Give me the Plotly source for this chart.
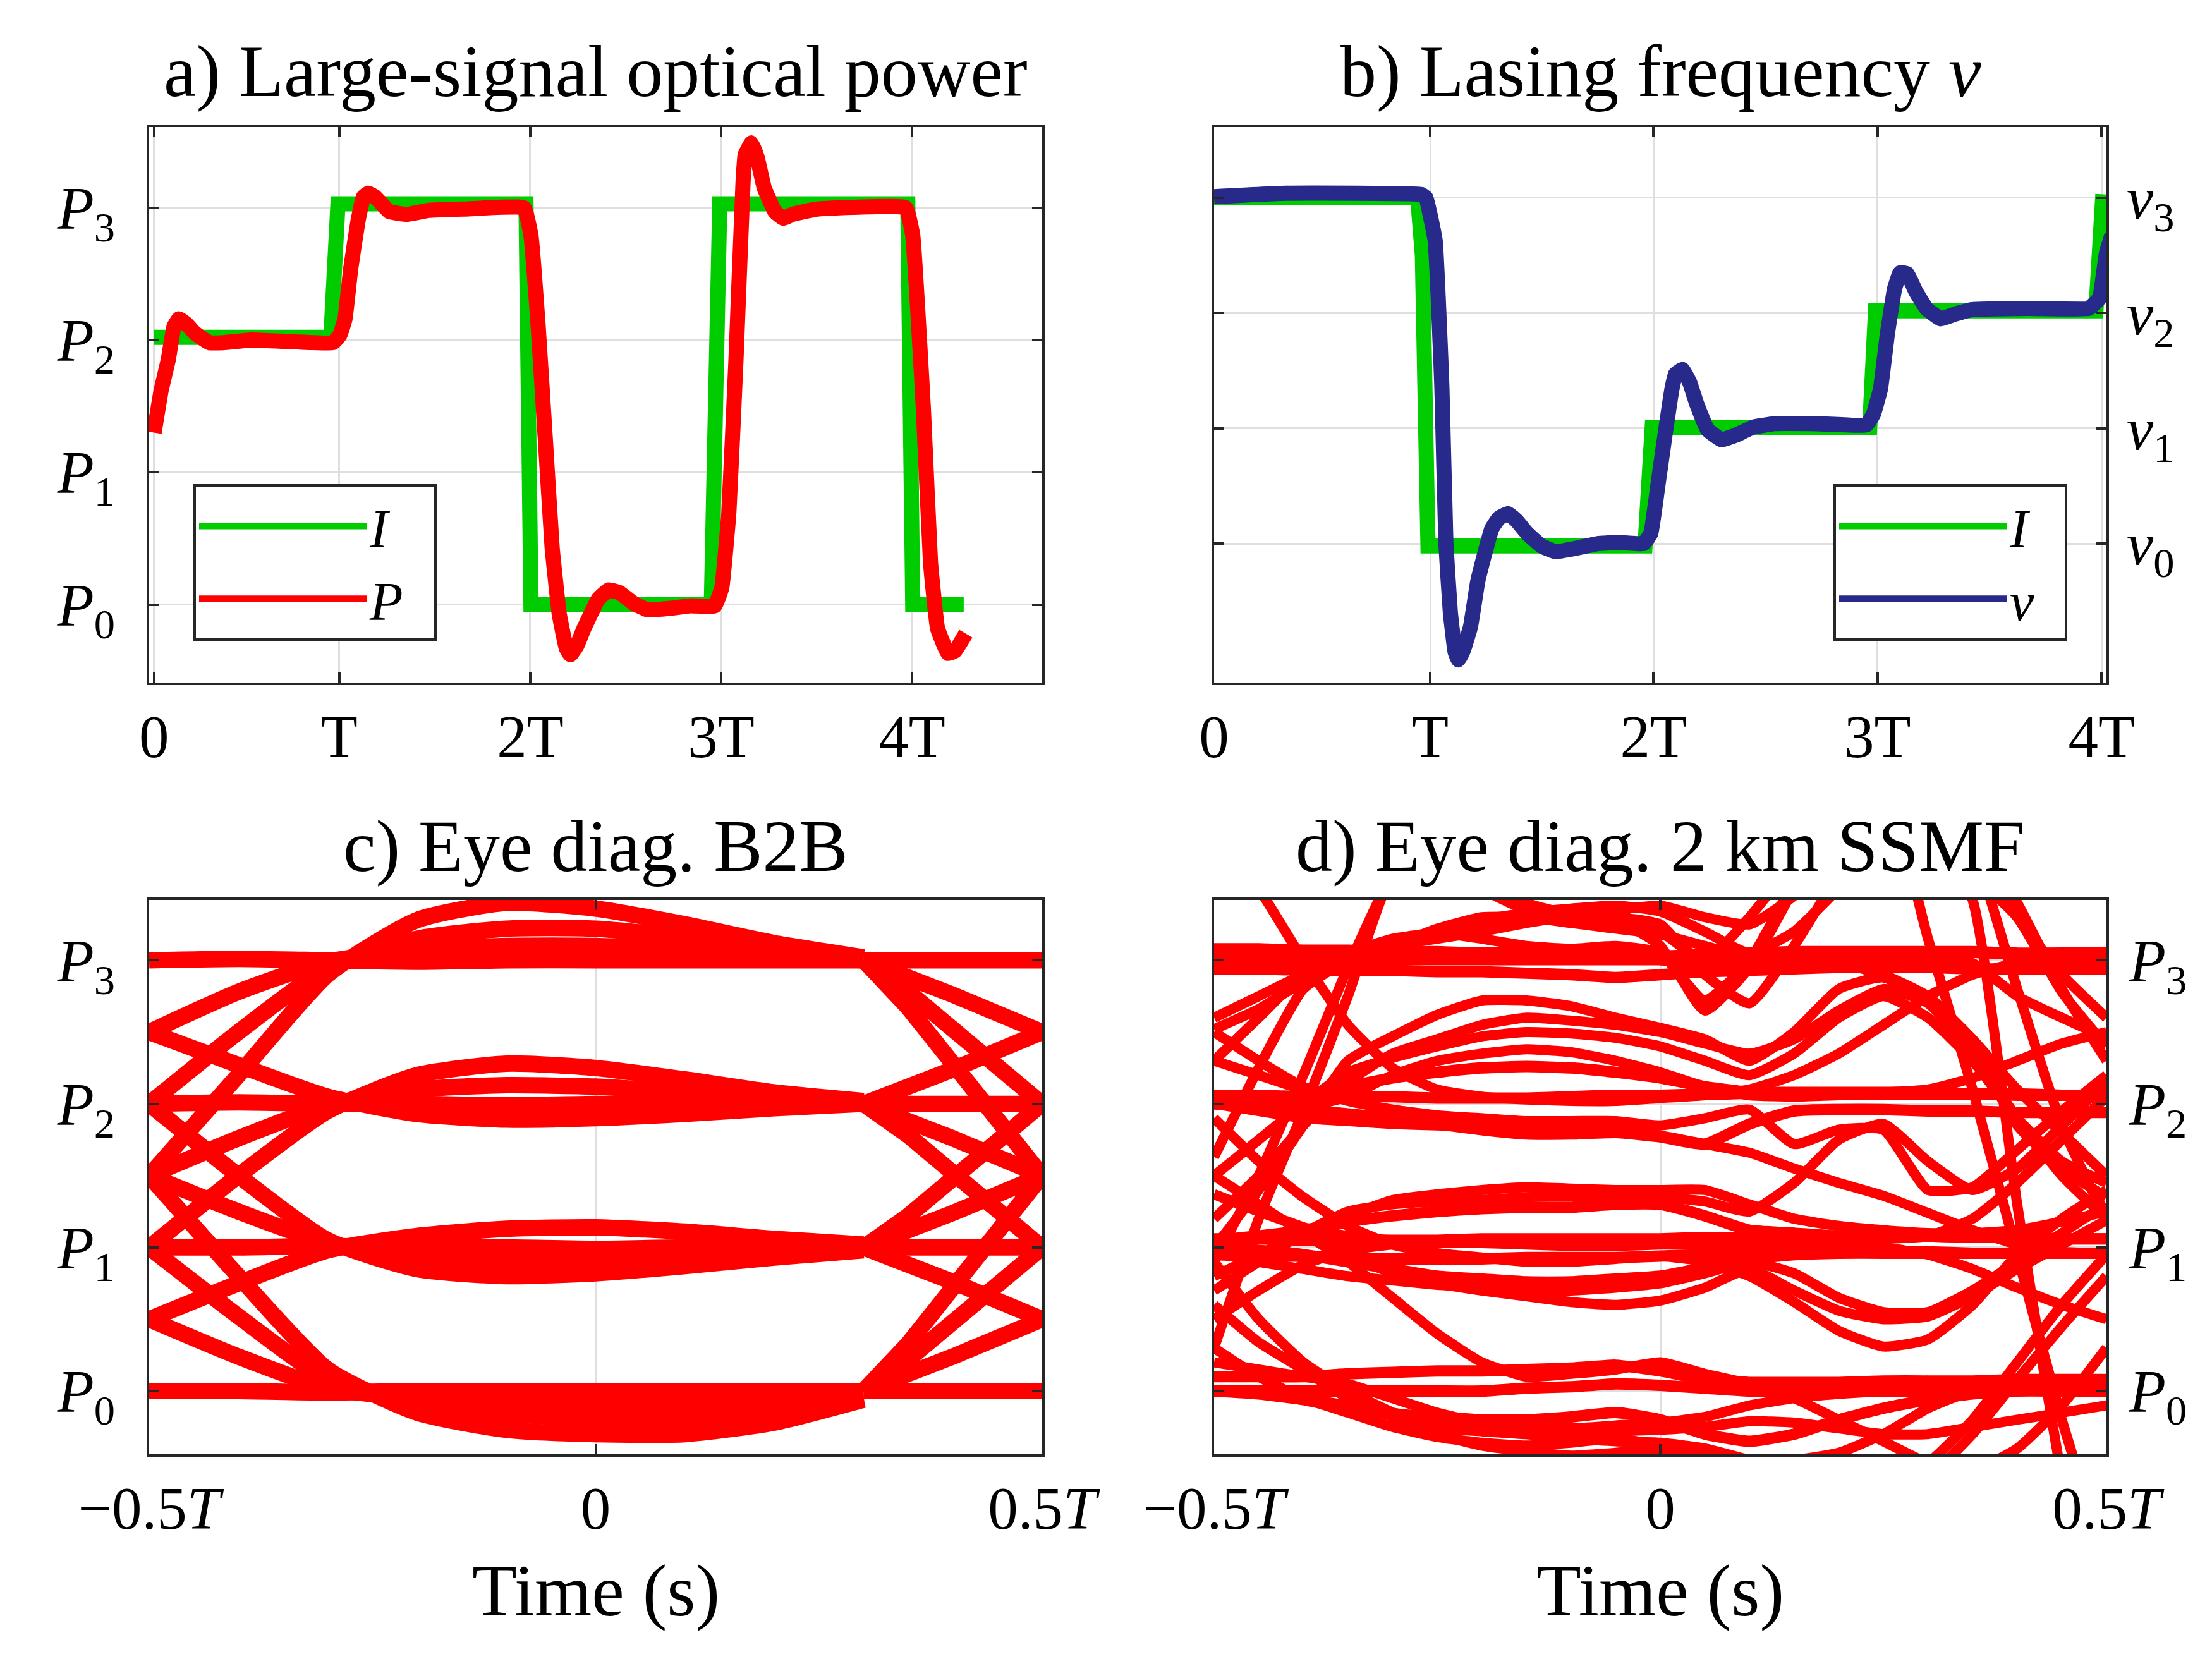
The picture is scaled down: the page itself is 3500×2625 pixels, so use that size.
import plotly.graph_objects as go

FONT = "Liberation Serif"
RED = "#FF0000"
GREEN = "#00CC00"
NAVY = "#27298B"
AXC = "#262626"
GRIDC = "#DFDFDF"

# ---------------- panel a: large-signal optical power ----------------
a_I_t = [0.0, 0.926, 0.963, 1.948, 1.974, 2.919, 2.963, 3.948, 3.974, 4.241]
a_I_v = [2.02, 2.02, 3.03, 3.03, 0.0, 0.0, 3.03, 3.03, 0.0, 0.0]
a_P_t = [0.000, 0.037, 0.074, 0.104, 0.130, 0.170, 0.215, 0.289, 0.363, 0.511, 0.937, 0.974,
         1.000, 1.030, 1.067, 1.096, 1.122, 1.159, 1.233, 1.326, 1.437, 1.622, 1.937, 1.974,
         2.011, 2.048, 2.085, 2.122, 2.159, 2.181, 2.215, 2.252, 2.326, 2.381, 2.437, 2.511,
         2.585, 2.696, 2.807, 2.937, 2.974, 3.011, 3.048, 3.085, 3.096, 3.130, 3.159, 3.196,
         3.252, 3.296, 3.344, 3.474, 3.937, 3.974, 4.030, 4.067, 4.104, 4.159, 4.196, 4.252]
a_P_v = [1.30, 1.62, 1.85, 2.10, 2.16, 2.12, 2.05, 1.98, 1.98, 2.00, 1.98, 2.04,
         2.16, 2.54, 2.89, 3.08, 3.11, 3.08, 2.97, 2.95, 2.98, 2.99, 3.00, 2.79,
         2.12, 1.28, 0.43, -0.07, -0.33, -0.38, -0.31, -0.18, 0.04, 0.11, 0.09, 0.01,
         -0.04, -0.03, -0.01, -0.01, 0.13, 0.70, 1.85, 3.19, 3.40, 3.49, 3.38, 3.15,
         2.97, 2.92, 2.95, 2.99, 3.00, 2.79, 1.47, 0.32, -0.18, -0.37, -0.35, -0.22]
a_tick_pos = [0, 0.97, 1.97, 2.97, 3.97]

# ---------------- panel b: lasing frequency ----------------
b_I_t = [0.0, 0.909, 0.930, 0.955, 1.924, 1.956, 2.927, 2.953, 3.937, 3.968]
b_I_v = [3.0, 3.0, 2.5, -0.02, -0.02, 1.01, 1.01, 2.02, 2.02, 3.03]
b_nu_t = [0.0, 0.325, 0.924, 0.946, 0.987, 1.017, 1.035, 1.055, 1.076, 1.091, 1.114, 1.145,
          1.177, 1.208, 1.240, 1.271, 1.312, 1.350, 1.397, 1.461, 1.524, 1.618, 1.713, 1.808,
          1.918, 1.950, 1.981, 2.013, 2.044, 2.060, 2.091, 2.123, 2.155, 2.202, 2.265, 2.328,
          2.407, 2.502, 2.691, 2.912, 2.943, 2.975, 3.006, 3.038, 3.063, 3.095, 3.132, 3.180,
          3.243, 3.306, 3.385, 3.637, 3.905, 3.953, 3.984, 4.009]
b_nu_v = [3.01, 3.04, 3.03, 3.00, 2.63, 1.36, 0.00, -0.60, -0.94, -1.01, -0.92, -0.72,
          -0.33, -0.09, 0.13, 0.22, 0.26, 0.20, 0.09, -0.02, -0.07, -0.04, 0.00, 0.01,
          0.00, 0.09, 0.50, 0.94, 1.34, 1.47, 1.51, 1.40, 1.21, 0.99, 0.90, 0.94,
          1.01, 1.04, 1.04, 1.03, 1.12, 1.34, 1.82, 2.21, 2.35, 2.34, 2.19, 2.04,
          1.95, 1.99, 2.03, 2.04, 2.04, 2.13, 2.52, 2.68]
b_tick_pos = [0, 0.965, 1.962, 2.962, 3.962]

tick_T = ["0", "T", "2T", "3T", "4T"]
P_labels = ["<i>P</i><sub>0</sub>", "<i>P</i><sub>1</sub>", "<i>P</i><sub>2</sub>", "<i>P</i><sub>3</sub>"]
nu_labels = ["<i>ν</i><sub>0</sub>", "<i>ν</i><sub>1</sub>", "<i>ν</i><sub>2</sub>", "<i>ν</i><sub>3</sub>"]
levels = [0, 1, 2, 3]
eye_tick_pos = [-0.5, 0, 0.5]
eye_tick_text = ["−0.5<i>T</i>", "0", "0.5<i>T</i>"]

# ---------------- panel c: eye diagram B2B ----------------
c_left_u = [-0.5, -0.4, -0.3, -0.2, -0.1, 0.0, 0.1, 0.2, 0.3]
c_into_P3 = [[3.0, 3.01, 3.0, 2.99, 3.0, 3.0, 3.0, 3.0, 3.0],
             [2.5, 2.78, 2.99, 3.07, 3.1, 3.1, 3.07, 3.03, 3.0],
             [2.0, 2.5, 2.95, 3.15, 3.22, 3.22, 3.16, 3.08, 3.02],
             [1.5, 2.2, 2.9, 3.28, 3.4, 3.36, 3.25, 3.12, 3.02]]
c_into_P2 = [[2.5, 2.27, 2.05, 1.93, 1.89, 1.9, 1.93, 1.97, 2.0],
             [2.0, 2.01, 2.0, 2.0, 1.99, 2.0, 2.0, 2.0, 2.0],
             [1.5, 1.76, 1.99, 2.1, 2.13, 2.12, 2.08, 2.04, 2.01],
             [1.0, 1.5, 1.95, 2.2, 2.28, 2.25, 2.17, 2.08, 2.02]]
c_into_P1 = [[2.0, 1.5, 1.05, 0.85, 0.8, 0.82, 0.87, 0.93, 0.98],
             [1.5, 1.25, 1.03, 0.93, 0.9, 0.92, 0.95, 0.98, 1.0],
             [1.0, 1.0, 1.01, 1.0, 1.0, 0.99, 1.0, 1.0, 1.0],
             [0.5, 0.75, 0.98, 1.08, 1.13, 1.14, 1.11, 1.06, 1.02]]
c_into_P0 = [[1.5, 0.8, 0.15, -0.15, -0.27, -0.3, -0.3, -0.22, -0.06],
             [1.0, 0.52, 0.08, -0.08, -0.16, -0.19, -0.19, -0.13, -0.04],
             [0.5, 0.24, 0.02, -0.05, -0.09, -0.1, -0.1, -0.07, -0.02],
             [0.0, 0.0, -0.01, 0.0, 0.0, 0.0, 0.0, 0.0, 0.0]]
c_right_u = [0.3, 0.35, 0.4, 0.45, 0.5]
c_from_P3 = [[3.0, 3.0, 3.0, 3.0, 3.0], [3.0, 2.89, 2.76, 2.63, 2.5],
             [3.0, 2.78, 2.52, 2.26, 2.0], [3.0, 2.67, 2.28, 1.89, 1.5]]
c_from_P2 = [[2.0, 2.11, 2.24, 2.37, 2.5], [2.0, 2.0, 2.0, 2.0, 2.0],
             [2.0, 1.89, 1.76, 1.63, 1.5], [2.0, 1.78, 1.52, 1.26, 1.0]]
c_from_P1 = [[1.0, 1.22, 1.48, 1.74, 2.0], [1.0, 1.11, 1.24, 1.37, 1.5],
             [1.0, 1.0, 1.0, 1.0, 1.0], [1.0, 0.89, 0.76, 0.63, 0.5]]
c_from_P0 = [[0.0, 0.33, 0.72, 1.11, 1.5], [0.0, 0.22, 0.48, 0.74, 1.0],
             [0.0, 0.11, 0.24, 0.37, 0.5], [0.0, 0.0, 0.0, 0.0, 0.0]]

# ---------------- panel d: eye diagram after 2 km SSMF ----------------
d_u = [-0.5, -0.45, -0.4, -0.35, -0.3, -0.25, -0.2, -0.15, -0.1, -0.05, 0.0,
       0.05, 0.1, 0.15, 0.2, 0.25, 0.3, 0.35, 0.4, 0.45, 0.5]
d_level_bands = [
    [3.08, 3.08, 3.07, 3.07, 3.06, 3.06, 3.05, 3.05, 3.04, 3.04, 3.03, 3.04, 3.05, 3.06, 3.06, 3.06, 3.06, 3.06, 3.05, 3.05, 3.05],
    [2.94, 2.94, 2.93, 2.93, 2.93, 2.92, 2.92, 2.91, 2.9, 2.88, 2.9, 2.92, 2.93, 2.94, 2.95, 2.95, 2.95, 2.94, 2.94, 2.94, 2.94],
    [2.06, 2.06, 2.05, 2.05, 2.05, 2.04, 2.04, 2.04, 2.05, 2.06, 2.06, 2.07, 2.08, 2.08, 2.08, 2.08, 2.08, 2.07, 2.07, 2.06, 2.06],
    [2.0, 1.98, 1.96, 1.93, 1.9, 1.86, 1.82, 1.79, 1.79, 1.8, 1.77, 1.72, 1.86, 1.95, 1.96, 1.96, 1.95, 1.95, 1.94, 1.94, 1.94],
    [1.06, 1.06, 1.05, 1.05, 1.05, 1.05, 1.06, 1.06, 1.06, 1.06, 1.06, 1.07, 1.07, 1.08, 1.08, 1.08, 1.08, 1.07, 1.07, 1.06, 1.06],
    [0.95, 0.94, 0.94, 0.93, 0.92, 0.92, 0.92, 0.93, 0.93, 0.93, 0.94, 0.95, 0.96, 0.96, 0.97, 0.97, 0.97, 0.96, 0.96, 0.96, 0.96],
    [0.1, 0.1, 0.1, 0.12, 0.13, 0.14, 0.14, 0.15, 0.16, 0.18, 0.14, 0.08, 0.06, 0.06, 0.06, 0.07, 0.07, 0.07, 0.08, 0.08, 0.08],
    [0.0, 0.0, 0.0, 0.0, 0.0, 0.0, 0.0, 0.02, 0.03, 0.05, 0.04, 0.02, 0.0, 0.0, 0.0, 0.0, 0.0, 0.02, 0.03, 0.04, 0.05],
    [2.0, 2.02, 2.06, 2.12, 2.18, 2.22, 2.25, 2.26, 2.25, 2.22, 2.18, 2.12, 2.08, 2.07, 2.07, 2.07, 2.07, 2.07, 2.06, 2.06, 2.06],
    [1.0, 0.98, 0.95, 0.9, 0.85, 0.8, 0.78, 0.76, 0.76, 0.78, 0.8, 0.86, 0.92, 0.95, 0.96, 0.96, 0.96, 0.96, 0.96, 0.96, 0.96],
    [1.05, 1.08, 1.12, 1.18, 1.22, 1.25, 1.27, 1.28, 1.28, 1.3, 1.3, 1.22, 1.12, 1.1, 1.08, 1.08, 1.08, 1.07, 1.07, 1.06, 1.06],
    [0.0, -0.02, -0.06, -0.12, -0.16, -0.18, -0.2, -0.2, -0.18, -0.15, -0.2, -0.3, -0.35, -0.3, -0.2, -0.12, -0.06, -0.02, 0.0, 0.0, 0.0],
]
d_wander = [
    [2.52, 2.66, 2.85, 3.0, 3.1, 3.18, 3.24, 3.28, 3.3, 3.28, 3.1, 2.65, 2.95, 3.5, 4.0, 4.2, 3.15, 2.1, 0.95, -0.2, -1.2],
    [2.3, 2.6, 2.9, 3.05, 3.15, 3.19, 3.15, 3.1, 3.08, 3.1, 3.05, 2.72, 3.0, 3.55, 4.1, 4.4, 4.0, 3.42, 1.3, -0.6, -2.0],
    [0.3, 1.2, 1.95, 2.75, 3.6, 3.8, 3.5, 3.35, 3.3, 3.32, 3.2, 3.0, 3.3, 3.7, 4.2, 4.4, 4.3, 3.8, 2.8, 1.85, 1.19],
    [1.63, 2.25, 2.8, 3.0, 3.1, 3.15, 3.2, 3.26, 3.31, 3.35, 3.38, 3.3, 3.25, 3.45, 3.8, 4.0, 3.9, 3.6, 3.3, 2.78, 2.4],
    [1.0, 1.4, 1.85, 2.3, 2.47, 2.62, 2.72, 2.72, 2.68, 2.6, 2.53, 2.45, 2.3, 2.5, 2.8, 2.88, 2.72, 2.4, 1.85, 1.55, 1.35],
    [1.5, 1.75, 2.0, 2.22, 2.32, 2.4, 2.47, 2.5, 2.49, 2.46, 2.4, 2.3, 2.2, 2.35, 2.6, 2.75, 2.6, 2.3, 1.9, 1.6, 1.45],
    [2.0, 2.0, 1.98, 2.05, 2.2, 2.3, 2.35, 2.38, 2.36, 2.3, 2.22, 2.12, 2.06, 2.05, 2.06, 2.06, 2.06, 2.06, 2.06, 2.06, 2.06],
    [2.3, 2.2, 2.1, 2.06, 2.05, 2.04, 2.04, 2.04, 2.05, 2.06, 2.06, 2.06, 2.07, 2.08, 2.08, 2.08, 2.1, 2.18, 2.3, 2.42, 2.5],
    [2.5, 2.3, 2.12, 2.02, 1.96, 1.92, 1.9, 1.88, 1.88, 1.88, 1.85, 1.9, 1.96, 1.72, 1.82, 1.82, 1.4, 1.42, 1.68, 1.95, 2.2],
    [2.0, 1.95, 1.9, 1.88, 1.86, 1.85, 1.84, 1.84, 1.83, 1.82, 1.78, 1.72, 1.66, 1.55, 1.45, 1.36, 1.24, 1.12, 1.02, 0.97, 0.96],
    [0.8, 0.95, 1.1, 1.22, 1.33, 1.37, 1.4, 1.42, 1.41, 1.4, 1.4, 1.4, 1.3, 1.2, 1.15, 1.12, 1.1, 1.1, 1.12, 1.18, 1.25],
    [1.37, 1.25, 1.14, 0.95, 0.82, 0.75, 0.7, 0.66, 0.62, 0.6, 0.63, 0.72, 0.85, 0.7, 0.56, 0.5, 0.52, 0.66, 0.85, 1.02, 1.19],
    [1.9, 1.6, 1.35, 1.15, 1.02, 0.96, 0.93, 0.9, 0.9, 0.92, 0.94, 0.9, 0.8, 0.62, 0.42, 0.31, 0.36, 0.6, 0.95, 1.2, 1.4],
    [0.6, 0.34, 0.15, -0.05, -0.18, -0.26, -0.28, -0.3, -0.3, -0.28, -0.27, -0.25, -0.21, -0.22, -0.26, -0.3, -0.3, -0.25, -0.2, -0.15, -0.1],
    [0.0, -0.02, -0.05, -0.1, -0.15, -0.2, -0.25, -0.3, -0.33, -0.35, -0.36, -0.4, -0.48, -0.55, -0.6, -0.65, -0.5, -0.2, 0.2, 0.6, 0.95],
    [0.9, 0.5, 0.2, 0.0, -0.15, -0.3, -0.38, -0.42, -0.45, -0.43, -0.4, -0.42, -0.5, -0.6, -0.7, -0.75, -0.6, -0.3, 0.08, 0.45, 0.8],
    [0.3, 0.1, -0.05, -0.15, -0.25, -0.32, -0.36, -0.38, -0.36, -0.33, -0.38, -0.45, -0.5, -0.48, -0.43, -0.3, -0.12, 0.0, 0.02, 0.03, 0.04],
    [1.37, 1.25, 1.14, 1.08, 1.05, 1.04, 1.03, 1.03, 1.03, 1.04, 1.04, 1.05, 1.05, 1.06, 1.06, 1.06, 1.08, 1.2, 1.45, 1.75, 2.05],
    [0.5, 0.7, 0.88, 0.98, 1.02, 1.03, 1.03, 1.02, 1.01, 1.01, 1.02, 1.02, 1.02, 1.02, 1.01, 1.0, 0.95, 0.85, 0.72, 0.6, 0.5],
    [3.0, 3.0, 3.0, 3.0, 3.0, 3.0, 3.0, 3.0, 3.0, 3.0, 3.0, 3.0, 3.0, 3.0, 3.0, 3.0, 3.0, 2.98, 2.75, 2.6, 2.46],
    [3.02, 3.02, 3.02, 3.02, 3.02, 3.03, 3.04, 3.05, 3.06, 3.04, 3.0, 2.96, 2.98, 3.0, 2.98, 2.9, 2.75, 2.45, 2.1, 1.8, 1.5],
    [3.9, 3.5, 3.0, 2.55, 2.25, 2.1, 2.05, 2.03, 2.02, 2.02, 2.04, 2.06, 2.1, 2.2, 2.35, 2.55, 2.75, 2.9, 2.98, 3.0, 3.0],
    [2.6, 2.75, 2.9, 3.0, 3.06, 3.18, 3.28, 3.33, 3.36, 3.38, 3.34, 3.2, 3.05, 3.2, 3.5, 3.8, 3.9, 3.7, 3.3, 2.9, 2.6],
    [3.0, 3.0, 3.01, 3.02, 3.1, 3.22, 3.3, 3.3, 3.26, 3.22, 3.18, 3.1, 3.02, 3.0, 3.02, 3.05, 3.06, 3.05, 3.04, 3.03, 3.03],
    [0.9, 1.5, 2.2, 2.95, 3.6, 3.9, 3.6, 3.4, 3.32, 3.3, 3.25, 2.9, 2.7, 3.1, 3.6, 4.0, 4.2, 3.9, 3.4, 2.8, 2.3],
    [1.2, 1.5, 1.85, 2.15, 2.35, 2.45, 2.55, 2.6, 2.58, 2.55, 2.5, 2.42, 2.35, 2.45, 2.65, 2.8, 2.7, 2.35, 1.9, 1.5, 1.2],
    [0.7, 0.9, 1.1, 1.25, 1.3, 1.32, 1.33, 1.35, 1.36, 1.36, 1.35, 1.32, 1.25, 1.45, 1.75, 1.86, 1.6, 1.4, 1.55, 1.85, 2.15],
    [1.0, 0.9, 0.85, 0.8, 0.77, 0.74, 0.72, 0.7, 0.7, 0.72, 0.75, 0.82, 0.9, 0.82, 0.65, 0.55, 0.55, 0.7, 0.9, 1.1, 1.3],
    [0.2, 0.15, 0.1, 0.05, -0.05, -0.15, -0.22, -0.25, -0.26, -0.24, -0.22, -0.18, -0.1, -0.05, -0.02, 0.0, 0.02, 0.04, 0.05, 0.06, 0.07],
    [1.5, 1.3, 1.1, 0.9, 0.65, 0.4, 0.2, 0.1, 0.12, 0.15, 0.2, 0.12, 0.05, -0.05, -0.2, -0.35, -0.5, -0.55, -0.4, -0.1, 0.3],
]

fig = go.Figure()

fig.add_trace(go.Scatter(x=a_I_t, y=a_I_v, mode="lines", name="<i>I</i>\u00a0\u00a0",
                         line=dict(color=GREEN, width=24), xaxis="x", yaxis="y", legend="legend"))
fig.add_trace(go.Scatter(x=a_P_t, y=a_P_v, mode="lines", name="<i>P</i>\u00a0\u00a0",
                         line=dict(color=RED, width=24, shape="spline", smoothing=0.3),
                         xaxis="x", yaxis="y", legend="legend"))
fig.add_trace(go.Scatter(x=b_I_t, y=b_I_v, mode="lines", name="<i>I</i>\u00a0\u00a0",
                         line=dict(color=GREEN, width=24), xaxis="x2", yaxis="y2", legend="legend2"))
fig.add_trace(go.Scatter(x=b_nu_t, y=b_nu_v, mode="lines", name="<i>ν</i>\u00a0\u00a0",
                         line=dict(color=NAVY, width=24, shape="spline", smoothing=0.3),
                         xaxis="x2", yaxis="y2", legend="legend2"))

for group in (c_into_P3, c_into_P2, c_into_P1, c_into_P0):
    for seg in group:
        fig.add_trace(go.Scatter(x=c_left_u, y=seg, mode="lines", showlegend=False,
                                 line=dict(color=RED, width=26, shape="spline", smoothing=0.6),
                                 xaxis="x3", yaxis="y3", hoverinfo="skip"))
for group in (c_from_P3, c_from_P2, c_from_P1, c_from_P0):
    for seg in group:
        fig.add_trace(go.Scatter(x=c_right_u, y=seg, mode="lines", showlegend=False,
                                 line=dict(color=RED, width=26),
                                 xaxis="x3", yaxis="y3", hoverinfo="skip"))
for seg in d_level_bands:
    fig.add_trace(go.Scatter(x=d_u, y=seg, mode="lines", showlegend=False,
                             line=dict(color=RED, width=18, shape="spline", smoothing=0.5),
                             xaxis="x4", yaxis="y4", hoverinfo="skip"))
for seg in d_wander:
    fig.add_trace(go.Scatter(x=d_u, y=seg, mode="lines", showlegend=False,
                             line=dict(color=RED, width=16, shape="spline", smoothing=0.5),
                             xaxis="x4", yaxis="y4", hoverinfo="skip"))

W, H = 3500, 2625
xa = [228 / W, 1641 / W]
xb = [1913 / W, 3325 / W]
ytop = [1 - 1072 / H, 1 - 193 / H]
ybot = [1 - 2293 / H, 1 - 1416 / H]

tickfont = dict(family=FONT, size=95, color="black")
common = dict(showline=True, linecolor=AXC, linewidth=4, mirror="ticks", ticks="inside",
              ticklen=16, tickwidth=4, tickcolor=AXC, showgrid=True, gridcolor=GRIDC,
              gridwidth=3, zeroline=False, tickfont=tickfont, automargin=False)

fig.update_layout(
    width=W, height=H, margin=dict(l=0, r=0, t=0, b=0),
    paper_bgcolor="white", plot_bgcolor="white",
    font=dict(family=FONT, color="black"),
    xaxis=dict(domain=xa, anchor="y", range=[-0.026, 4.652], tickvals=a_tick_pos, ticktext=tick_T, **common),
    yaxis=dict(domain=ytop, anchor="x", range=[-0.59, 3.61], tickvals=levels, ticktext=P_labels,
               ticklabelstandoff=31, **common),
    xaxis2=dict(domain=xb, anchor="y2", range=[0, 3.984], tickvals=b_tick_pos, ticktext=tick_T, **common),
    yaxis2=dict(domain=ytop, anchor="x2", side="right", range=[-1.206, 3.614], tickvals=levels,
                ticktext=nu_labels, ticklabelstandoff=9, **common),
    xaxis3=dict(domain=xa, anchor="y3", range=[-0.5, 0.5], tickvals=eye_tick_pos, ticktext=eye_tick_text, **common),
    yaxis3=dict(domain=ybot, anchor="x3", range=[-0.44, 3.42], tickvals=levels, ticktext=P_labels,
                ticklabelstandoff=31, **common),
    xaxis4=dict(domain=xb, anchor="y4", range=[-0.5, 0.5], tickvals=eye_tick_pos, ticktext=eye_tick_text, **common),
    yaxis4=dict(domain=ybot, anchor="x4", side="right", range=[-0.44, 3.42], tickvals=levels,
                ticktext=P_labels, ticklabelstandoff=13, **common),
    legend=dict(x=298 / W, y=1 - 758 / H, xanchor="left", yanchor="top", bgcolor="white",
                bordercolor=AXC, borderwidth=4, font=dict(family=FONT, size=86, color="black"),
                itemwidth=265, tracegroupgap=0),
    legend2=dict(x=2893 / W, y=1 - 758 / H, xanchor="left", yanchor="top", bgcolor="white",
                 bordercolor=AXC, borderwidth=4, font=dict(family=FONT, size=86, color="black"),
                 itemwidth=265, tracegroupgap=0),
    showlegend=True,
)

title_font = dict(family=FONT, size=116, color="black")
titles = [("a) Large-signal optical power", sum(xa) / 2, 1 - 105 / H),
          ("b) Lasing frequency <i>ν</i>", sum(xb) / 2, 1 - 105 / H),
          ("c) Eye diag. B2B", sum(xa) / 2, 1 - 1331 / H),
          ("d) Eye diag. 2 km SSMF", sum(xb) / 2, 1 - 1331 / H),
          ("Time (s)", sum(xa) / 2, 1 - 2509 / H),
          ("Time (s)", sum(xb) / 2, 1 - 2509 / H)]
for txt, x, y in titles:
    fig.add_annotation(text=txt, x=x, y=y, xref="paper", yref="paper", showarrow=False,
                       xanchor="center", yanchor="middle", font=title_font)

fig.write_html("out.html")
